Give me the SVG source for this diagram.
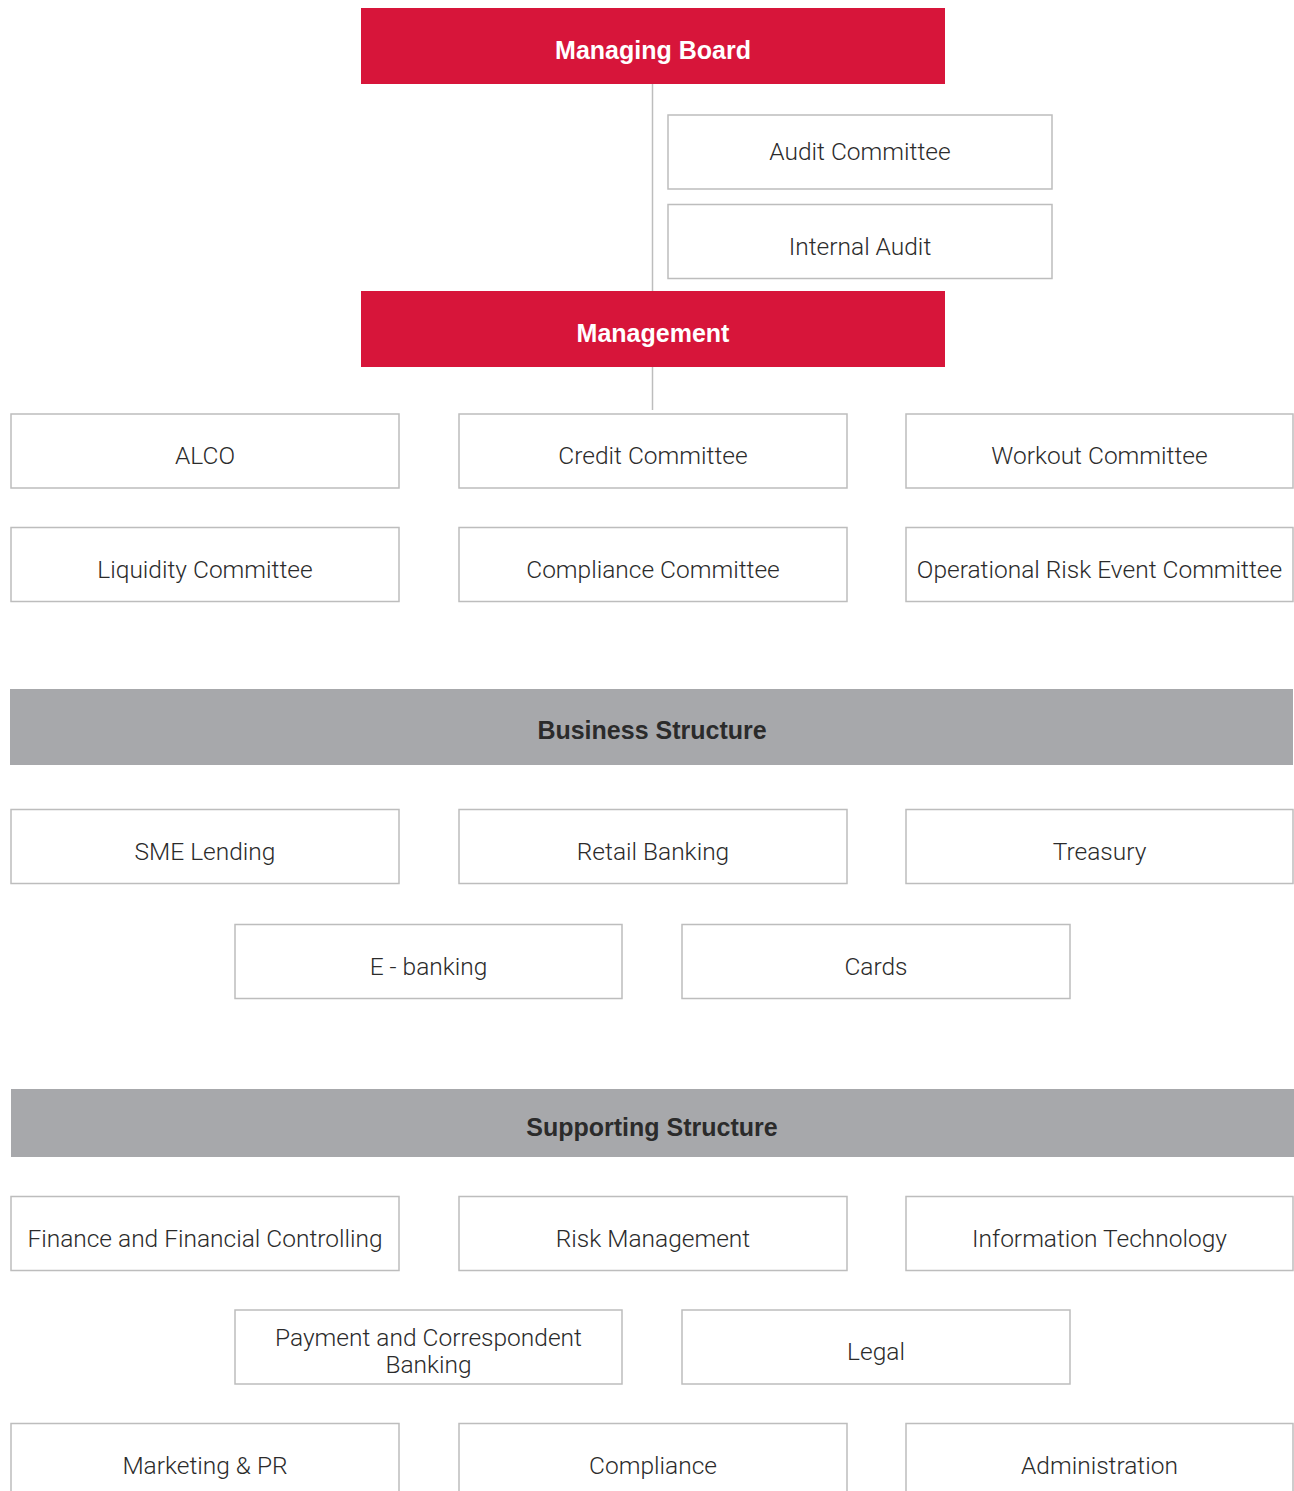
<svg xmlns="http://www.w3.org/2000/svg" width="1294" height="1491" viewBox="0 0 1294 1491">
  <style>
    .box rect { fill: #ffffff; stroke: #bdbdbd; stroke-width: 1.5; }
    .box text { font-family: Roboto, "Liberation Sans", sans-serif; font-weight: 300; font-size: 24.5px; fill: #2b2b2b; text-anchor: middle; }
    .head rect { fill: #d7153a; }
    .head text { font-family: "Liberation Sans", Arial, sans-serif; font-weight: 700; font-size: 25px; fill: #ffffff; text-anchor: middle; }
    .band rect { fill: #a7a8ab; }
    .band text { font-family: "Liberation Sans", Arial, sans-serif; font-weight: 700; font-size: 25px; fill: #2b2b2b; text-anchor: middle; }
    .link { stroke: #bdbdbd; stroke-width: 1.5; fill: none; }
  </style>

  <!-- connectors -->
  <g id="connectors">
    <line class="link" x1="652.5" y1="84" x2="652.5" y2="291"/>
    <line class="link" x1="652.5" y1="367" x2="652.5" y2="410"/>
  </g>

  <!-- governance -->
  <g id="managing-board" class="head">
    <rect x="361" y="8" width="584" height="76"/>
    <text x="653" y="59">Managing Board</text>
  </g>
  <g id="audit-committee" class="box">
    <rect x="668" y="115" width="384" height="74"/>
    <text x="860" y="160">Audit Committee</text>
  </g>
  <g id="internal-audit" class="box">
    <rect x="668" y="204.5" width="384" height="74"/>
    <text x="860" y="255">Internal Audit</text>
  </g>
  <g id="management" class="head">
    <rect x="361" y="291" width="584" height="76"/>
    <text x="653" y="342">Management</text>
  </g>

  <!-- committees -->
  <g id="alco" class="box">
    <rect x="11" y="414" width="388" height="74"/>
    <text x="205" y="464">ALCO</text>
  </g>
  <g id="credit-committee" class="box">
    <rect x="459" y="414" width="388" height="74"/>
    <text x="653" y="464">Credit Committee</text>
  </g>
  <g id="workout-committee" class="box">
    <rect x="906" y="414" width="387" height="74"/>
    <text x="1099.5" y="464">Workout Committee</text>
  </g>
  <g id="liquidity-committee" class="box">
    <rect x="11" y="527.5" width="388" height="74"/>
    <text x="205" y="578">Liquidity Committee</text>
  </g>
  <g id="compliance-committee" class="box">
    <rect x="459" y="527.5" width="388" height="74"/>
    <text x="653" y="578">Compliance Committee</text>
  </g>
  <g id="operational-risk-event-committee" class="box">
    <rect x="906" y="527.5" width="387" height="74"/>
    <text x="1099.5" y="578">Operational Risk Event Committee</text>
  </g>

  <!-- business structure -->
  <g id="business-structure" class="band">
    <rect x="10" y="689" width="1283" height="76"/>
    <text x="652" y="739">Business Structure</text>
  </g>
  <g id="sme-lending" class="box">
    <rect x="11" y="809.5" width="388" height="74"/>
    <text x="205" y="860">SME Lending</text>
  </g>
  <g id="retail-banking" class="box">
    <rect x="459" y="809.5" width="388" height="74"/>
    <text x="653" y="860">Retail Banking</text>
  </g>
  <g id="treasury" class="box">
    <rect x="906" y="809.5" width="387" height="74"/>
    <text x="1099.5" y="860">Treasury</text>
  </g>
  <g id="e-banking" class="box">
    <rect x="235" y="924.5" width="387" height="74"/>
    <text x="428.5" y="975">E - banking</text>
  </g>
  <g id="cards" class="box">
    <rect x="682" y="924.5" width="388" height="74"/>
    <text x="876" y="975">Cards</text>
  </g>

  <!-- supporting structure -->
  <g id="supporting-structure" class="band">
    <rect x="11" y="1089" width="1283" height="68"/>
    <text x="652" y="1136">Supporting Structure</text>
  </g>
  <g id="finance" class="box">
    <rect x="11" y="1196.5" width="388" height="74"/>
    <text x="205" y="1247">Finance and Financial Controlling</text>
  </g>
  <g id="risk-management" class="box">
    <rect x="459" y="1196.5" width="388" height="74"/>
    <text x="653" y="1247">Risk Management</text>
  </g>
  <g id="information-technology" class="box">
    <rect x="906" y="1196.5" width="387" height="74"/>
    <text x="1099.5" y="1247">Information Technology</text>
  </g>
  <g id="payment-banking" class="box">
    <rect x="235" y="1310" width="387" height="74"/>
    <text x="428.5" y="1346">Payment and Correspondent</text>
    <text x="428.5" y="1373">Banking</text>
  </g>
  <g id="legal" class="box">
    <rect x="682" y="1310" width="388" height="74"/>
    <text x="876" y="1360">Legal</text>
  </g>
  <g id="marketing-pr" class="box">
    <rect x="11" y="1423.5" width="388" height="74"/>
    <text x="205" y="1474">Marketing &amp; PR</text>
  </g>
  <g id="compliance" class="box">
    <rect x="459" y="1423.5" width="388" height="74"/>
    <text x="653" y="1474">Compliance</text>
  </g>
  <g id="administration" class="box">
    <rect x="906" y="1423.5" width="387" height="74"/>
    <text x="1099.5" y="1474">Administration</text>
  </g>
</svg>
